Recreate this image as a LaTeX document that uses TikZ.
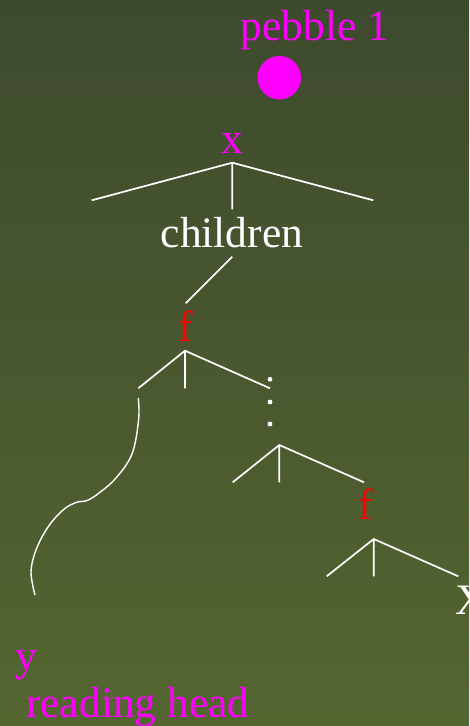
\documentclass[tikz,border=0pt]{standalone}
\usepackage{fontspec}
\setmainfont{Liberation Serif}
\begin{document}
\begin{tikzpicture}[x=1pt,y=-1pt,
  lbl/.style={inner sep=0pt,anchor=base,font=\fontsize{43.5}{48}\selectfont},
  maglbl/.style={lbl,text=pmag},
  redlbl/.style={lbl,text=pred},
  whtlbl/.style={lbl,text=white},
  branch/.style={draw=white,line width=1.7pt},
  dotmark/.style={circle,fill=white,inner sep=0pt,minimum size=4.8pt}]
\definecolor{bgtop}{RGB}{62,74,46}
\definecolor{bgbot}{RGB}{84,102,48}
\definecolor{pmag}{RGB}{255,0,255}
\definecolor{pred}{RGB}{255,0,0}
\useasboundingbox (0,0) rectangle (469,726);
\clip (0,0) rectangle (469,726);
\shade[top color=bgtop,bottom color=bgbot] (0,0) rectangle (469,726);

% pebble
\node[maglbl] (peb) at (315,40) {pebble 1};
\node[circle,fill=pmag,inner sep=0pt,minimum size=43.4pt] (stone) at (279.3,77.7) {};

% x subtree
\node[maglbl] (xl) at (232,153) {x};
\coordinate (xa) at (232.3,162.7);
\coordinate (xL) at (91.7,200.3);
\coordinate (xM) at (232.3,209.3);
\coordinate (xR) at (373.3,200.3);
\draw[branch] (xL) -- (xa) -- (xR) (xa) -- (xM);

\node[whtlbl] (ch) at (232,247) {children};
\coordinate (chb) at (232.3,256.7);
\coordinate (cht) at (185.7,303.3);
\draw[branch] (chb) -- (cht);

% first f
\node[redlbl] (f1) at (186,341.7) {f};
\coordinate (fa) at (185,350.7);
\coordinate (fL) at (138.3,388.3);
\coordinate (fM) at (185,388.3);
\coordinate (fR) at (270,388.3);
\draw[branch] (fL) -- (fa) -- (fR) (fa) -- (fM);

\node[dotmark] (d1) at (270,379.3) {};
\node[dotmark] (d2) at (270,402) {};
\node[dotmark] (d3) at (270,424) {};

% second subtree
\coordinate (ga) at (279.3,445);
\coordinate (gL) at (232.7,482.3);
\coordinate (gM) at (279.3,482.3);
\coordinate (gR) at (364,482.3);
\draw[branch] (gL) -- (ga) -- (gR) (ga) -- (gM);

\node[redlbl] (f2) at (366,519.3) {f};
\coordinate (ha) at (373.7,539);
\coordinate (hL) at (326.7,576.3);
\coordinate (hM) at (373.7,576.3);
\coordinate (hR) at (458.3,576.3);
\draw[branch] (hL) -- (ha) -- (hR) (ha) -- (hM);

\node[whtlbl,anchor=base west] (xx) at (455,614) {X};

% path to reading head
\draw[white,line width=1.4pt] plot[smooth,tension=0.6] coordinates {(138.3,398) (138.6,420) (132,454) (116,478) (99,493) (87,500.5) (76,502.5) (63,510) (48,527) (36,550) (31,572) (35,595)};

\node[maglbl,anchor=base west] (yl) at (15.5,670) {y};
\node[maglbl,anchor=base west] (rh) at (26,717.3) {reading head};
\end{tikzpicture}
\end{document}
